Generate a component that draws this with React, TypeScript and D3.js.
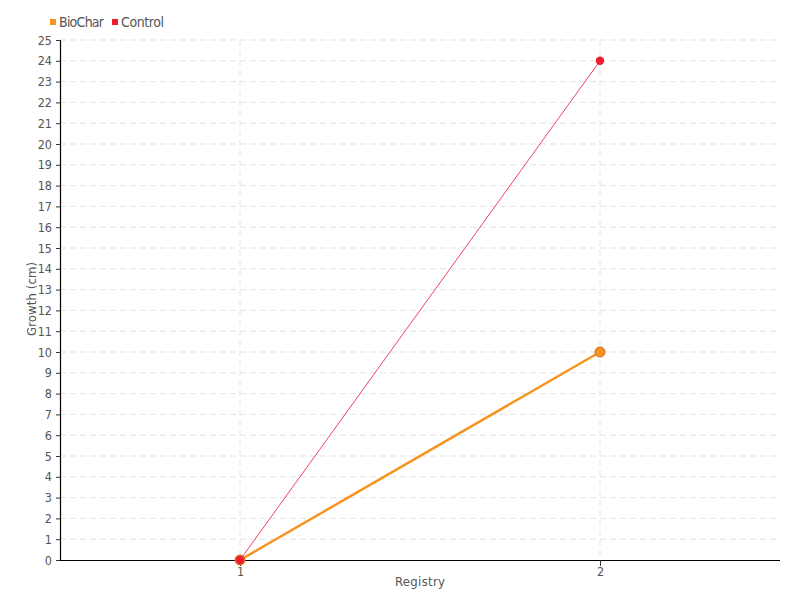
import React, { useEffect, useRef } from 'react'
import * as d3 from 'd3'

// chart data
const registry = ['1', '2']
const bioChar = [0, 10]
const control = [0, 24]
const seriesNames = ['BioChar', 'Control']
const seriesColors = ['#f7931e', '#ee1c2e']

const FONT = '"DejaVu Sans Condensed", "Liberation Sans Narrow", "Noto Sans", sans-serif'

export default function App() {
  const ref = useRef<SVGSVGElement>(null)

  useEffect(() => {
    const svg = d3.select(ref.current)
    svg.selectAll('*').remove()

    const left = 60, right = 780, top = 40, bottom = 560

    const x = d3.scalePoint().domain(registry).range([left, right]).padding(0.5)
    const y = d3.scaleLinear().domain([0, 25]).range([bottom, top])

    // grid
    const grid = svg.append('g')
    grid.selectAll('.hg')
      .data(d3.range(1, 26))
      .enter()
      .append('line')
      .attr('x1', left).attr('x2', right)
      .attr('y1', d => y(d)).attr('y2', d => y(d))
      .attr('stroke', '#e3e3e3')
      .attr('stroke-dasharray', '6,4')
    grid.selectAll('.vg')
      .data(registry)
      .enter()
      .append('line')
      .attr('x1', d => x(d)!).attr('x2', d => x(d)!)
      .attr('y1', top).attr('y2', bottom)
      .attr('stroke', '#e3e3e3')
      .attr('stroke-dasharray', '6,4')

    // axes
    const yAxis = svg.append('g')
      .attr('transform', `translate(${left},0)`)
      .call(d3.axisLeft(y).tickValues(d3.range(0, 26)).tickSize(4).tickPadding(4))
    const xAxis = svg.append('g')
      .attr('transform', `translate(0,${bottom})`)
      .call(d3.axisBottom(x).tickSize(6).tickPadding(1))
    for (const a of [yAxis, xAxis]) {
      a.select('.domain').attr('stroke', '#000').attr('stroke-width', 1.2)
      a.selectAll('.tick line').attr('stroke', '#333')
      a.selectAll('.tick text')
        .attr('fill', '#555')
        .style('font-family', FONT)
        .style('font-size', '12.5px')
    }
    xAxis.select('.domain').attr('d', `M${left},0.5H${right}`)
    yAxis.select('.domain').attr('d', `M0.5,${top}V${bottom}`)

    // axis titles
    svg.append('text')
      .attr('x', (left + right) / 2).attr('y', 586)
      .attr('text-anchor', 'middle')
      .attr('fill', '#555')
      .attr('textLength', 50)
      .style('font-family', FONT).style('font-size', '13px')
      .text('Registry')
    svg.append('text')
      .attr('transform', `translate(36,299) rotate(-90)`)
      .attr('text-anchor', 'middle')
      .attr('fill', '#555')
      .attr('textLength', 74)
      .style('font-family', FONT).style('font-size', '13px')
      .text('Growth (cm)')

    const line = d3.line<number>()
      .x((d, i) => x(registry[i])!)
      .y(d => y(d))

    // BioChar
    svg.append('path')
      .datum(bioChar)
      .attr('d', line)
      .attr('fill', 'none')
      .attr('stroke', seriesColors[0])
      .attr('stroke-width', 2.5)
    svg.selectAll('.bc')
      .data(bioChar)
      .enter()
      .append('circle')
      .attr('cx', (d, i) => x(registry[i])!)
      .attr('cy', d => y(d))
      .attr('r', 5)
      .attr('fill', seriesColors[0])
      .attr('stroke', '#d2691e')
      .attr('stroke-width', 1)

    // Control
    svg.append('path')
      .datum(control)
      .attr('d', line)
      .attr('fill', 'none')
      .attr('stroke', '#f0435c')
      .attr('stroke-width', 1)
    svg.selectAll('.ct')
      .data(control)
      .enter()
      .append('circle')
      .attr('cx', (d, i) => x(registry[i])!)
      .attr('cy', d => y(d))
      .attr('r', 4.2)
      .attr('fill', seriesColors[1])

    // legend
    const legend = svg.append('g').attr('transform', 'translate(50,22)')
    const lengths = [45, 43]
    let offset = 0
    seriesNames.forEach((name, i) => {
      const g = legend.append('g').attr('transform', `translate(${offset},0)`)
      g.append('rect')
        .attr('x', 0).attr('y', -3)
        .attr('width', 6).attr('height', 6)
        .attr('fill', seriesColors[i])
      g.append('text')
        .attr('x', 9).attr('y', 5)
        .attr('fill', '#555')
        .attr('textLength', lengths[i])
        .style('font-family', FONT).style('font-size', '14px')
        .text(name)
      offset += 9 + lengths[i] + 8
    })
  }, [])

  return (
    <svg ref={ref} width={800} height={600} style={{ position: 'absolute', left: 0, top: 0, background: '#fff' }} />
  )
}
